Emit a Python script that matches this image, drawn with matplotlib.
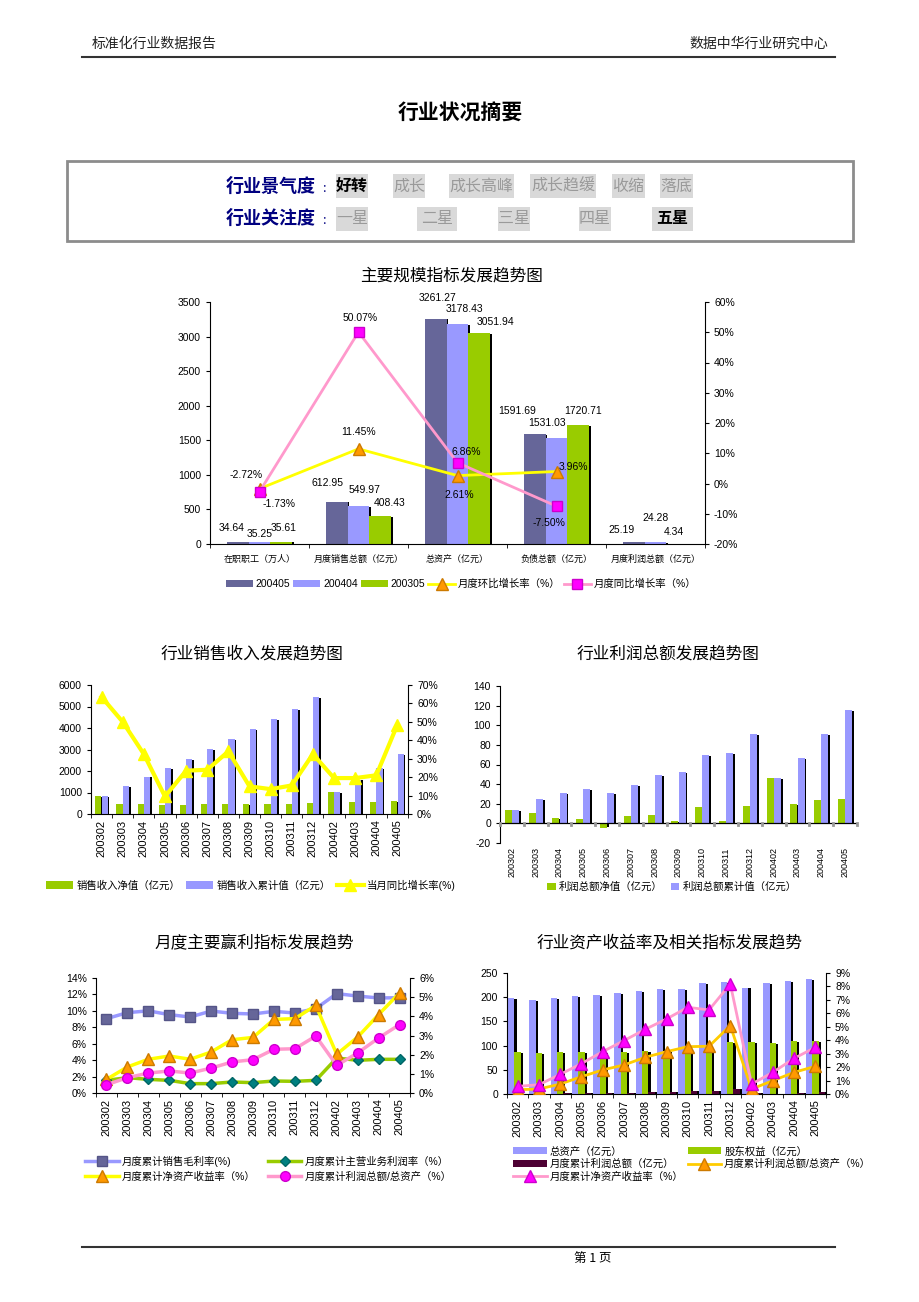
import matplotlib
matplotlib.use("Agg")
import numpy as np
import matplotlib.pyplot as plt
from matplotlib.patches import Rectangle
from matplotlib.lines import Line2D
from matplotlib.ticker import FuncFormatter, MultipleLocator

plt.rcParams["font.family"] = ["Liberation Sans", "Noto Sans CJK SC"]
plt.rcParams["axes.unicode_minus"] = False

# ---- 主要规模指标 ----
scale_cats = ["在职职工（万人）", "月度销售总额（亿元）", "总资产（亿元）", "负债总额（亿元）", "月度利润总额（亿元）"]
v200405 = [34.64, 612.95, 3261.27, 1591.69, 25.19]
v200404 = [35.25, 549.97, 3178.43, 1531.03, 24.28]
v200305 = [35.61, 408.43, 3051.94, 1720.71, 4.34]
mom_growth = [-1.73, 11.45, 2.61, 3.96]
yoy_growth = [-2.72, 50.07, 6.86, -7.50]

# ---- 月度序列 ----
months = ["200302", "200303", "200304", "200305", "200306", "200307", "200308", "200309",
          "200310", "200311", "200312", "200402", "200403", "200404", "200405"]
sales_net = [830, 450, 450, 400, 400, 450, 450, 450, 480, 480, 530, 1020, 560, 550, 613]
sales_cum = [830, 1280, 1740, 2130, 2560, 3020, 3480, 3950, 4400, 4900, 5430, 1020, 1600, 2150, 2790]
sales_yoy = [63.5, 50.0, 32.5, 9.5, 23.5, 24.0, 34.0, 15.0, 13.5, 15.5, 32.5, 19.5, 19.5, 21.0, 48.5]

profit_net = [13.5, 11.0, 5.0, 4.3, -4.5, 7.5, 9.0, 2.5, 16.5, 2.0, 18.0, 46.0, 20.0, 24.3, 25.2]
profit_cum = [13.5, 25.0, 31.0, 35.0, 31.0, 39.0, 49.0, 52.0, 70.0, 72.0, 91.0, 46.0, 67.0, 91.0, 116.0]

gross_margin = [9.05, 9.78, 10.0, 9.54, 9.25, 9.98, 9.70, 9.62, 9.94, 9.74, 10.27, 12.1, 11.8, 11.57, 11.6]
main_margin = [1.54, 1.87, 1.66, 1.54, 1.14, 1.14, 1.34, 1.26, 1.46, 1.42, 1.54, 4.26, 3.98, 4.1, 4.1]
roe_cum = [0.71, 1.36, 1.76, 1.93, 1.76, 2.14, 2.78, 2.90, 3.84, 3.88, 4.57, 2.02, 2.92, 4.09, 5.22]
profit_assets = [0.43, 0.80, 1.04, 1.15, 1.04, 1.30, 1.62, 1.74, 2.28, 2.31, 2.97, 1.44, 2.09, 2.87, 3.57]

total_assets = [197.6, 195, 198, 202, 205, 209, 212, 217, 217, 229, 231, 220, 229, 234, 238]
equity = [86, 84, 86, 86, 86, 87, 89, 89, 94, 98, 107, 107, 105, 110, 110]
cum_profit = [1, 1, 2, 3, 2, 3, 5, 5, 7, 7, 11, 2, 1, 3, 4]
pa_ratio = [0.32, 0.37, 0.74, 1.29, 1.79, 2.16, 2.73, 3.15, 3.52, 3.55, 5.09, 0.37, 0.99, 1.61, 2.06]
roe_ratio = [0.57, 0.69, 1.46, 2.26, 3.15, 3.97, 4.81, 5.58, 6.45, 6.25, 8.19, 0.74, 1.61, 2.65, 3.47]

W, H = 920, 1302
fig = plt.figure(figsize=(W / 100, H / 100), dpi=100)


def fx(x):
    return x / W


def fy(y):
    return 1 - y / H


def add_ax(l, t, r, b):
    return fig.add_axes([fx(l), fy(b), (r - l) / W, (b - t) / H])


def pct(v, _):
    return f"{v:.0f}%"


def style(ax, right=None):
    ax.spines["top"].set_visible(False)
    ax.spines["right"].set_visible(False)
    ax.tick_params(axis="y", direction="out", length=3, labelsize=7.5, width=0.8)
    if right is not None:
        right.spines["top"].set_visible(False)
        right.spines["left"].set_visible(False)
        right.spines["bottom"].set_visible(False)
        right.tick_params(direction="out", length=3, labelsize=7.5, width=0.8)
        right.yaxis.set_major_formatter(FuncFormatter(pct))


def bars(ax, x, h, w, color, dx, dy, z=2):
    h = np.asarray(h, float)
    ax.bar(x + dx, h - np.sign(h) * dy, w, color="black", zorder=z - 0.5, linewidth=0)
    return ax.bar(x, h, w, color=color, zorder=z, linewidth=0)


def month_axis(ax, size=8):
    ax.set_xticks(np.arange(len(months)))
    ax.set_xticklabels(months, rotation=90, fontsize=size)
    ax.set_xticks(np.arange(len(months) + 1) - 0.5, minor=True)
    ax.tick_params(axis="x", which="major", length=0, pad=4)
    ax.tick_params(axis="x", which="minor", length=3)
    ax.set_xlim(-0.5, len(months) - 0.5)


cj = ["Noto Sans CJK SC"]

# ---- 页眉 ----
fig.text(fx(92), fy(44), "标准化行业数据报告", fontsize=10, family=cj, va="center", color="#222222")
fig.text(fx(828), fy(44), "数据中华行业研究中心", fontsize=10, family=cj, va="center", ha="right", color="#222222")
fig.add_artist(Line2D([fx(82), fx(835)], [fy(57), fy(57)], color="#333333", lw=1.5))
fig.text(fx(460), fy(113), "行业状况摘要", fontsize=15, family=cj, ha="center", va="center", weight="bold")

# ---- 摘要框 ----
fig.add_artist(Rectangle((fx(67), fy(241)), (853 - 67) / W, (241 - 161) / H,
                         transform=fig.transFigure, fill=False, edgecolor="#8c8c8c", lw=2))
rows = [
    (186, 174, 198, "行业景气度",
     [("好转", 336, 368, True), ("成长", 393, 425, False), ("成长高峰", 449, 514, False),
      ("成长趋缓", 530, 596, False), ("收缩", 612, 645, False), ("落底", 660, 693, False)]),
    (218, 207, 231, "行业关注度",
     [("一星", 336, 368, False), ("二星", 417, 457, False), ("三星", 498, 530, False),
      ("四星", 579, 611, False), ("五星", 652, 693, True)]),
]
for yc, yt, yb, label, items in rows:
    fig.text(fx(226), fy(yc), label, fontsize=13, family=cj, color="#000080", weight="bold", va="center")
    fig.text(fx(321), fy(yc + 3), "：", fontsize=8, family=cj, color="#000080", va="center")
    for txt, x0, x1, on in items:
        fig.add_artist(Rectangle((fx(x0), fy(yb)), (x1 - x0) / W, (yb - yt) / H,
                                 transform=fig.transFigure, facecolor="#d9d9d9", edgecolor="none"))
        fig.text(fx((x0 + x1) / 2), fy(yc), txt, fontsize=11.5, family=cj, ha="center", va="center",
                 color="black" if on else "#9a9a9a", weight="bold" if on else "normal")

# ---- 主要规模指标发展趋势图 ----
fig.text(fx(452), fy(276), "主要规模指标发展趋势图", fontsize=12, family=cj, ha="center", va="center")
ax = add_ax(210, 302, 705, 544)
x = np.arange(len(scale_cats))
bw = 0.222
b1 = bars(ax, x - bw, v200405, bw, "#666699", 0.02, 12)
b2 = bars(ax, x, v200404, bw, "#9999ff", 0.02, 12)
b3 = bars(ax, x + bw, v200305, bw, "#99cc00", 0.02, 12)
ax.set_ylim(0, 3500)
ax.yaxis.set_major_locator(MultipleLocator(500))
ax.set_xlim(-0.5, 4.5)
ax.set_xticks(x)
ax.set_xticklabels(scale_cats, fontsize=6.5, family=cj)
ax.set_xticks(np.arange(6) - 0.5, minor=True)
ax.tick_params(axis="x", which="major", length=0, pad=8)
ax.tick_params(axis="x", which="minor", length=3)
ax2 = ax.twinx()
ax2.set_ylim(-20, 60)
ax2.yaxis.set_major_locator(MultipleLocator(10))
style(ax, ax2)
l1, = ax2.plot(x[:4], mom_growth, color="#ffff00", lw=2, marker="^", ms=8,
               mfc="#ff9900", mec="#cc7a00", zorder=5)
l2, = ax2.plot(x[:4], yoy_growth, color="#ff99cc", lw=2, marker="s", ms=6.5,
               mfc="#ff00ff", mec="#cc00cc", zorder=6)
bar_offsets = [
    [(-6, 9), (-9, 14), (2, 16), (-17, 18), (-12, 7)],
    [(0, 3), (6, 11), (7, 10), (-9, 10), (0, 19)],
    [(2, 9), (9, 8), (16, 6), (5, 9), (-4, 7)],
]
for k, (vals, dxs) in enumerate(zip([v200405, v200404, v200305], bar_offsets)):
    for i, v in enumerate(vals):
        ax.annotate(f"{v:.2f}", (x[i] + (k - 1) * bw, v), xytext=dxs[i], textcoords="offset pixels",
                    ha="center", va="bottom", fontsize=7.5, zorder=8)
mom_off = [(20, -20), (0, 12), (2, -24), (17, 0)]
yoy_off = [(-13, 12), (2, 9), (9, 6), (-8, -22)]
for i, v in enumerate(mom_growth):
    ax2.annotate(f"{v:.2f}%", (x[i], v), xytext=mom_off[i], textcoords="offset pixels",
                 ha="center", va="bottom", fontsize=7.5, zorder=9)
for i, v in enumerate(yoy_growth):
    ax2.annotate(f"{v:.2f}%", (x[i], v), xytext=yoy_off[i], textcoords="offset pixels",
                 ha="center", va="bottom", fontsize=7.5, zorder=9)
ax2.set_zorder(ax.get_zorder() + 1)
ax2.patch.set_visible(False)
ax.legend([b1, b2, b3, l1, l2], ["200405", "200404", "200305", "月度环比增长率（%）", "月度同比增长率（%）"],
          loc="center", bbox_to_anchor=(fx(461), fy(584)), bbox_transform=fig.transFigure,
          ncol=5, frameon=False, fontsize=7.5, handlelength=2.6, handletextpad=0.25, columnspacing=0.3)

# ---- 行业销售收入发展趋势图 ----
fig.text(fx(252), fy(654), "行业销售收入发展趋势图", fontsize=12, family=cj, ha="center", va="center")
ax = add_ax(91, 685, 408, 814)
xm = np.arange(len(months))
g = bars(ax, xm - 0.15, sales_net, 0.29, "#99cc00", 0.08, 40)
bl = bars(ax, xm + 0.15, sales_cum, 0.29, "#9999ff", 0.08, 40)
ax.set_ylim(0, 6000)
ax.yaxis.set_major_locator(MultipleLocator(1000))
month_axis(ax)
ax2 = ax.twinx()
ax2.set_ylim(0, 70)
ax2.yaxis.set_major_locator(MultipleLocator(10))
style(ax, ax2)
ly, = ax2.plot(xm, sales_yoy, color="#ffff00", lw=3, marker="^", ms=8, mfc="#ffff00", mec="#ffff00")
ax.legend([g, bl, ly], ["销售收入净值（亿元）", "销售收入累计值（亿元）", "当月同比增长率(%)"],
          loc="center", bbox_to_anchor=(fx(251), fy(885)), bbox_transform=fig.transFigure,
          ncol=3, frameon=False, fontsize=7.5, handlelength=2.6, handletextpad=0.3, columnspacing=0.6)

# ---- 行业利润总额发展趋势图 ----
fig.text(fx(668), fy(654), "行业利润总额发展趋势图", fontsize=12, family=cj, ha="center", va="center")
ax = add_ax(500, 686, 857, 843)
g = bars(ax, xm - 0.15, profit_net, 0.29, "#99cc00", 0.08, 1.0)
bl = bars(ax, xm + 0.15, profit_cum, 0.29, "#9999ff", 0.08, 1.0)
ax.set_ylim(-20, 140)
ax.yaxis.set_major_locator(MultipleLocator(20))
month_axis(ax, size=6.5)
ax.axhline(0, color="black", lw=0.9, zorder=3)
for b in np.arange(len(months) + 1) - 0.5:
    ax.plot([b, b], [0, -1.6], color="#999999", lw=2, zorder=3, clip_on=False)
style(ax)
ax.spines["bottom"].set_visible(False)
ax.tick_params(axis="x", which="both", length=0, pad=3)
ax.legend([g, bl], ["利润总额净值（亿元）", "利润总额累计值（亿元）"],
          loc="center", bbox_to_anchor=(fx(672), fy(887)), bbox_transform=fig.transFigure,
          ncol=2, frameon=False, fontsize=7.5, handlelength=0.8, handletextpad=0.3, columnspacing=0.8)

# ---- 月度主要赢利指标发展趋势 ----
fig.text(fx(254), fy(943), "月度主要赢利指标发展趋势", fontsize=12, family=cj, ha="center", va="center")
ax = add_ax(96, 978, 410, 1093)
ax.set_ylim(0, 14)
ax.yaxis.set_major_locator(MultipleLocator(2))
ax.yaxis.set_major_formatter(FuncFormatter(pct))
month_axis(ax)
ax2 = ax.twinx()
ax2.set_ylim(0, 6)
ax2.yaxis.set_major_locator(MultipleLocator(1))
style(ax, ax2)
m1, = ax.plot(xm, gross_margin, color="#9999ff", lw=2.5, marker="s", ms=7, mfc="#666699", mec="#555588")
m2, = ax.plot(xm, main_margin, color="#99cc00", lw=2.5, marker="D", ms=5.5, mfc="#008080", mec="#006666")
m3, = ax2.plot(xm, roe_cum, color="#ffff00", lw=2.5, marker="^", ms=8, mfc="#ff9900", mec="#cc7a00")
m4, = ax2.plot(xm, profit_assets, color="#ff99cc", lw=2.5, marker="o", ms=7, mfc="#ff00ff", mec="#cc00cc")
ax.legend([m1, m3, m2, m4], ["月度累计销售毛利率(%)", "月度累计净资产收益率（%）",
                              "月度累计主营业务利润率（%）", "月度累计利润总额/总资产（%）"],
          loc="center left", bbox_to_anchor=(fx(76), fy(1169)), bbox_transform=fig.transFigure,
          ncol=2, frameon=False, fontsize=7.5, handlelength=3.2, handletextpad=0.3, columnspacing=1.2,
          labelspacing=0.45)

# ---- 行业资产收益率及相关指标发展趋势 ----
fig.text(fx(670), fy(943), "行业资产收益率及相关指标发展趋势", fontsize=12, family=cj, ha="center", va="center")
ax = add_ax(507, 973, 826, 1094)
a1 = bars(ax, xm - 0.3, total_assets, 0.3, "#9999ff", 0.1, 2)
a2 = bars(ax, xm, equity, 0.3, "#99cc00", 0.1, 2)
a3 = bars(ax, xm + 0.3, cum_profit, 0.3, "#4d0033", 0.1, 0.3)
ax.set_ylim(0, 250)
ax.yaxis.set_major_locator(MultipleLocator(50))
month_axis(ax)
ax2 = ax.twinx()
ax2.set_ylim(0, 9)
ax2.yaxis.set_major_locator(MultipleLocator(1))
style(ax, ax2)
r1, = ax2.plot(xm, pa_ratio, color="#ffcc00", lw=2, marker="^", ms=8, mfc="#ff9900", mec="#cc7a00")
r2, = ax2.plot(xm, roe_ratio, color="#ff99cc", lw=2, marker="^", ms=8, mfc="#ff00ff", mec="#cc00cc")
ax.legend([a1, a3, r2, a2, r1], ["总资产（亿元）", "月度累计利润总额（亿元）", "月度累计净资产收益率（%）",
                                  "股东权益（亿元）", "月度累计利润总额/总资产（%）"],
          loc="center left", bbox_to_anchor=(fx(504), fy(1164)), bbox_transform=fig.transFigure,
          ncol=2, frameon=False, fontsize=7.5, handlelength=3.2, handletextpad=0.3, columnspacing=0.4,
          labelspacing=0.25)

# ---- 页脚 ----
fig.add_artist(Line2D([fx(82), fx(835)], [fy(1247), fy(1247)], color="#333333", lw=1.5))
fig.text(fx(593), fy(1258), "第 1 页", fontsize=9, family=cj, ha="center", va="center")

fig.savefig("out.png", dpi=100, facecolor="white")
